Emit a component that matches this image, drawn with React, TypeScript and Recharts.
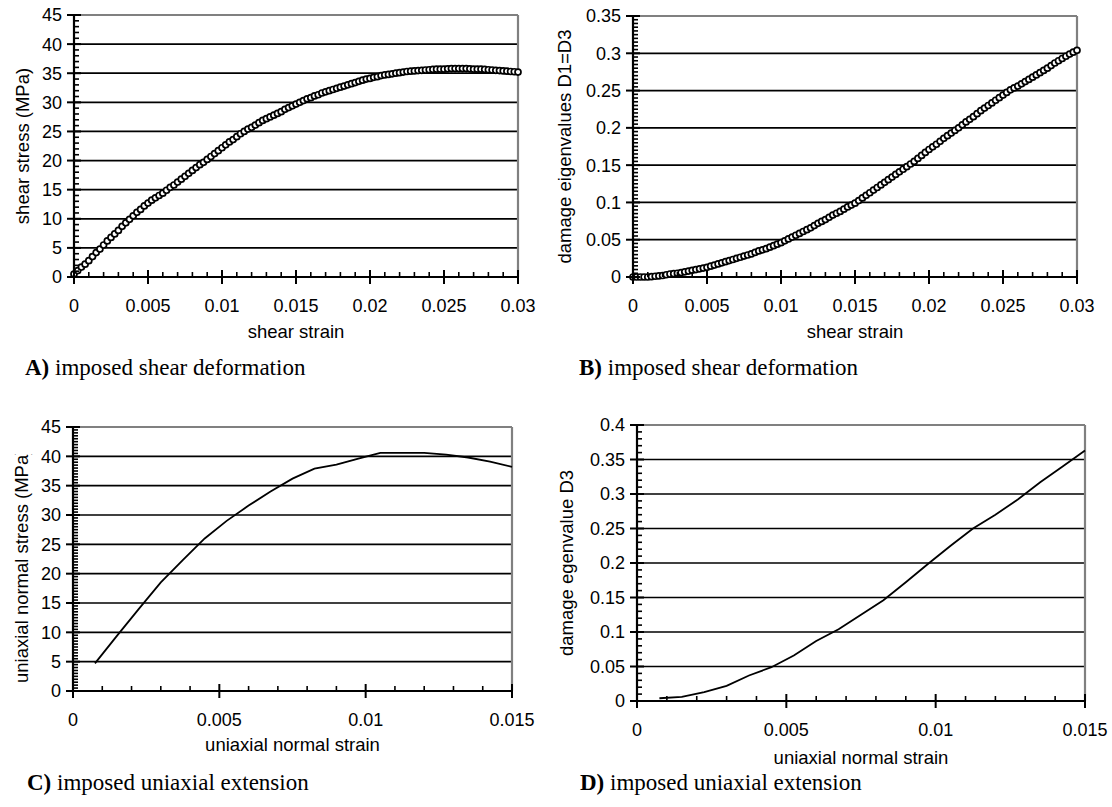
import { LineChart, Line, XAxis, YAxis, ReferenceLine, Label } from 'recharts';

const SANS = '"Liberation Sans", Arial, sans-serif';
const SERIF = '"Liberation Serif", "Times New Roman", serif';

// --- imposed shear deformation (panels A and B) ---
const shearStrain = [
  0, 0.00025, 0.0005, 0.00075, 0.001, 0.00125, 0.0015, 0.00175, 0.002, 0.00225,
  0.0025, 0.00275, 0.003, 0.00325, 0.0035, 0.00375, 0.004, 0.00425, 0.0045, 0.00475,
  0.005, 0.00525, 0.0055, 0.00575, 0.006, 0.00625, 0.0065, 0.00675, 0.007, 0.00725,
  0.0075, 0.00775, 0.008, 0.00825, 0.0085, 0.00875, 0.009, 0.00925, 0.0095, 0.00975,
  0.01, 0.01025, 0.0105, 0.01075, 0.011, 0.01125, 0.0115, 0.01175, 0.012, 0.01225,
  0.0125, 0.01275, 0.013, 0.01325, 0.0135, 0.01375, 0.014, 0.01425, 0.0145, 0.01475,
  0.015, 0.01525, 0.0155, 0.01575, 0.016, 0.01625, 0.0165, 0.01675, 0.017, 0.01725,
  0.0175, 0.01775, 0.018, 0.01825, 0.0185, 0.01875, 0.019, 0.01925, 0.0195, 0.01975,
  0.02, 0.02025, 0.0205, 0.02075, 0.021, 0.02125, 0.0215, 0.02175, 0.022, 0.02225,
  0.0225, 0.02275, 0.023, 0.02325, 0.0235, 0.02375, 0.024, 0.02425, 0.0245, 0.02475,
  0.025, 0.02525, 0.0255, 0.02575, 0.026, 0.02625, 0.0265, 0.02675, 0.027, 0.02725,
  0.0275, 0.02775, 0.028, 0.02825, 0.0285, 0.02875, 0.029, 0.02925, 0.0295, 0.02975, 0.03,
];
const shearStress = [
  0.5, 1.1, 1.7, 2.2, 2.8, 3.5, 4.2, 4.8, 5.5, 6.2,
  6.8, 7.4, 8.0, 8.7, 9.3, 9.9, 10.5, 11.1, 11.6, 12.2,
  12.7, 13.2, 13.6, 14.0, 14.4, 14.9, 15.4, 15.8, 16.3, 16.8,
  17.3, 17.8, 18.3, 18.8, 19.3, 19.7, 20.2, 20.7, 21.2, 21.7,
  22.2, 22.7, 23.2, 23.6, 24.1, 24.6, 25.0, 25.4, 25.7, 26.1,
  26.5, 26.9, 27.2, 27.5, 27.8, 28.1, 28.4, 28.8, 29.1, 29.4,
  29.7, 30.0, 30.3, 30.6, 30.8, 31.1, 31.3, 31.6, 31.8, 32.0,
  32.2, 32.4, 32.6, 32.8, 33.0, 33.2, 33.4, 33.6, 33.8, 34.0,
  34.1, 34.3, 34.4, 34.6, 34.7, 34.8, 34.9, 35.0, 35.1, 35.2,
  35.3, 35.35, 35.4, 35.45, 35.5, 35.55, 35.6, 35.65, 35.7, 35.7,
  35.7, 35.75, 35.8, 35.8, 35.8, 35.8, 35.8, 35.75, 35.7, 35.7,
  35.7, 35.65, 35.6, 35.55, 35.5, 35.45, 35.4, 35.35, 35.3, 35.25, 35.2,
];
const shearDamage = [
  0, 0, 0, 0, 0, 0.0005, 0.001, 0.0015, 0.002, 0.003,
  0.004, 0.0045, 0.005, 0.006, 0.007, 0.008, 0.009, 0.01, 0.011, 0.012,
  0.013, 0.0145, 0.016, 0.0175, 0.019, 0.0205, 0.022, 0.0235, 0.025, 0.0265,
  0.028, 0.0295, 0.031, 0.033, 0.035, 0.0365, 0.038, 0.04, 0.042, 0.044,
  0.046, 0.0485, 0.051, 0.0535, 0.056, 0.0585, 0.061, 0.0635, 0.066, 0.069,
  0.072, 0.0745, 0.077, 0.08, 0.083, 0.0855, 0.088, 0.091, 0.094, 0.0965,
  0.099, 0.1025, 0.106, 0.1095, 0.113, 0.1165, 0.12, 0.1235, 0.127, 0.1305,
  0.134, 0.1375, 0.141, 0.1445, 0.148, 0.1515, 0.155, 0.159, 0.163, 0.167,
  0.171, 0.1745, 0.178, 0.182, 0.186, 0.1895, 0.193, 0.1965, 0.2, 0.204,
  0.208, 0.2115, 0.215, 0.219, 0.223, 0.2265, 0.23, 0.2335, 0.237, 0.2405,
  0.244, 0.2475, 0.251, 0.2535, 0.256, 0.259, 0.262, 0.265, 0.268, 0.271,
  0.274, 0.277, 0.28, 0.2835, 0.287, 0.29, 0.293, 0.296, 0.299, 0.3015, 0.304,
];

// --- imposed uniaxial extension (panels C and D) ---
const uniStrain = [
  0.00075, 0.0015, 0.00225, 0.003, 0.00375, 0.0045, 0.00525, 0.006, 0.00675, 0.0075,
  0.00825, 0.009, 0.00975, 0.0105, 0.01125, 0.012, 0.01275, 0.0135, 0.01425, 0.015,
];
const uniStress = [
  4.7, 9.4, 14.0, 18.5, 22.3, 26.0, 29.0, 31.6, 34.0, 36.2,
  37.9, 38.6, 39.6, 40.6, 40.6, 40.6, 40.3, 39.8, 39.1, 38.2,
];
const uniDamage = [
  0.004, 0.006, 0.013, 0.022, 0.037, 0.049, 0.066, 0.087, 0.104, 0.125,
  0.146, 0.172, 0.199, 0.225, 0.25, 0.27, 0.292, 0.317, 0.34, 0.363,
];

// major tick labels
const shearStrainTicks = [0, 0.005, 0.01, 0.015, 0.02, 0.025, 0.03];
const uniStrainTicks = [0, 0.005, 0.01, 0.015];
const stressTicks = [0, 5, 10, 15, 20, 25, 30, 35, 40, 45];
const shearDamageTicks = [0, 0.05, 0.1, 0.15, 0.2, 0.25, 0.3, 0.35];
const uniDamageTicks = [0, 0.05, 0.1, 0.15, 0.2, 0.25, 0.3, 0.35, 0.4];

const zip = (xs: number[], ys: number[]) => xs.map((x, i) => ({ x, y: ys[i] }));

// majors plus the little minor marks in between
const withMinor = (majors: number[], step: number) => {
  const out: number[] = [];
  const lo = majors[0];
  const hi = majors[majors.length - 1];
  const n = Math.round((hi - lo) / step);
  for (let i = 0; i <= n; i++) out.push(+(lo + i * step).toFixed(6));
  return out;
};

const isMajor = (v: number, majors: number[]) => majors.some((m) => Math.abs(m - v) < 1e-9);
const fmt = (v: number) => String(+v.toFixed(4));

const XTick = (props: any) => {
  const { x, y, payload, majors } = props;
  const v = payload.value;
  if (!isMajor(v, majors)) {
    return <line x1={x} x2={x} y1={y} y2={y - 5} stroke="#000" strokeWidth={1.6} />;
  }
  return (
    <g>
      <line x1={x} x2={x} y1={y - 7} y2={y + 7} stroke="#000" strokeWidth={2} />
      <text x={x} y={y + 35} textAnchor="middle" fontSize={18} fontFamily={SANS} fill="#000">
        {fmt(v)}
      </text>
    </g>
  );
};

const YTick = (props: any) => {
  const { x, y, payload, majors } = props;
  const v = payload.value;
  if (!isMajor(v, majors)) {
    return <line x1={x} x2={x + 5} y1={y} y2={y} stroke="#000" strokeWidth={1.6} />;
  }
  return (
    <g>
      <line x1={x - 7} x2={x + 7} y1={y} y2={y} stroke="#000" strokeWidth={2} />
      <text x={x - 12} y={y} dy="0.36em" textAnchor="end" fontSize={18} fontFamily={SANS} fill="#000">
        {fmt(v)}
      </text>
    </g>
  );
};

type PanelProps = {
  id: string;
  data: { x: number; y: number }[];
  xTicks: number[];
  xMinor: number;
  yTicks: number[];
  yMinor: number;
  xTitle: string;
  yTitle: string;
  yTitleX: number;
  yTitleStart?: number;
  yClipTop?: number;
  xTitleDy: number;
  width: number;
  height: number;
  margin: { top: number; right: number; left: number; bottom: number };
  yAxisWidth: number;
  markers: boolean;
};

const Panel = (p: PanelProps) => {
  const xMax = p.xTicks[p.xTicks.length - 1];
  const yMax = p.yTicks[p.yTicks.length - 1];
  return (
    <LineChart width={p.width} height={p.height} data={p.data} margin={p.margin}>
      {p.yTicks.slice(1).map((v) => (
        <ReferenceLine
          key={v}
          y={v}
          stroke={v === yMax ? '#808080' : '#000'}
          strokeWidth={v === yMax ? 2.2 : 1.7}
        />
      ))}
      <ReferenceLine x={xMax} stroke="#808080" strokeWidth={2.2} />
      <XAxis
        type="number"
        dataKey="x"
        domain={[0, xMax]}
        ticks={withMinor(p.xTicks, p.xMinor)}
        interval={0}
        tickSize={0}
        tickMargin={0}
        tickLine={false}
        axisLine={{ stroke: '#000', strokeWidth: 2.2 }}
        height={70}
        tick={(t: any) => <XTick {...t} majors={p.xTicks} />}
      >
        <Label
          content={(lp: any) => {
            const vb = lp.viewBox;
            return (
              <text
                x={vb.x + vb.width / 2}
                y={vb.y + p.xTitleDy}
                textAnchor="middle"
                fontSize={18.5}
                fontFamily={SANS}
                fill="#000"
              >
                {p.xTitle}
              </text>
            );
          }}
        />
      </XAxis>
      <YAxis
        type="number"
        domain={[0, yMax]}
        ticks={withMinor(p.yTicks, p.yMinor)}
        interval={0}
        tickSize={0}
        tickMargin={0}
        tickLine={false}
        axisLine={{ stroke: '#000', strokeWidth: 2.2 }}
        width={p.yAxisWidth}
        tick={(t: any) => <YTick {...t} majors={p.yTicks} />}
      >
        <Label
          content={(lp: any) => {
            const vb = lp.viewBox;
            const cx = p.yTitleX;
            const cy = p.yTitleStart !== undefined ? p.yTitleStart : vb.y + vb.height / 2;
            const clipId = 'ytitle-clip-' + p.id;
            const clipped = p.yClipTop !== undefined;
            return (
              <g clipPath={clipped ? `url(#${clipId})` : undefined}>
                {clipped && (
                  <defs>
                    <clipPath id={clipId}>
                      <rect x={0} y={p.yClipTop} width={p.yAxisWidth} height={p.height} />
                    </clipPath>
                  </defs>
                )}
                <text
                  x={cx}
                  y={cy}
                  transform={`rotate(-90 ${cx} ${cy})`}
                  textAnchor={p.yTitleStart !== undefined ? 'start' : 'middle'}
                  dominantBaseline="central"
                  fontSize={18.5}
                  fontFamily={SANS}
                  fill="#000"
                >
                  {p.yTitle}
                </text>
              </g>
            );
          }}
        />
      </YAxis>
      <Line
        type="linear"
        dataKey="y"
        stroke="#000"
        strokeWidth={p.markers ? 2 : 1.8}
        dot={p.markers ? { r: 3, stroke: '#000', strokeWidth: 1.7, fill: '#fff' } : false}
        activeDot={false}
        isAnimationActive={false}
      />
    </LineChart>
  );
};

const Caption = ({ tag, text, left, top }: { tag: string; text: string; left: number; top: number }) => (
  <div
    style={{
      position: 'absolute',
      left,
      top,
      fontFamily: SERIF,
      fontSize: 23,
      lineHeight: 1,
      whiteSpace: 'nowrap',
      color: '#000',
    }}
  >
    <b>{tag}</b> {text}
  </div>
);

export default function App() {
  return (
    <div style={{ position: 'relative', width: 1112, height: 807, background: '#fff', overflow: 'hidden' }}>
      <style>{'body{margin:0}'}</style>
      <div style={{ position: 'absolute', left: 0, top: 0 }}>
        <Panel
          id="a"
          data={zip(shearStrain, shearStress)}
          xTicks={shearStrainTicks}
          xMinor={0.001}
          yTicks={stressTicks}
          yMinor={1}
          xTitle="shear strain"
          yTitle="shear stress (MPa)"
          yTitleX={22}
          xTitleDy={61}
          width={545}
          height={350}
          margin={{ top: 15, right: 27, left: 0, bottom: 3 }}
          yAxisWidth={74}
          markers
        />
      </div>
      <div style={{ position: 'absolute', left: 540, top: 0 }}>
        <Panel
          id="b"
          data={zip(shearStrain, shearDamage)}
          xTicks={shearStrainTicks}
          xMinor={0.001}
          yTicks={shearDamageTicks}
          yMinor={0.005}
          xTitle="shear strain"
          yTitle="damage eigenvalues  D1=D3"
          yTitleX={24}
          xTitleDy={61}
          width={572}
          height={350}
          margin={{ top: 16, right: 35, left: 0, bottom: 3 }}
          yAxisWidth={93}
          markers
        />
      </div>
      <div style={{ position: 'absolute', left: 0, top: 390 }}>
        <Panel
          id="c"
          data={zip(uniStrain, uniStress)}
          xTicks={uniStrainTicks}
          xMinor={0.001}
          yTicks={stressTicks}
          yMinor={0.5}
          xTitle="uniaxial normal strain"
          yTitle="uniaxial normal stress (MPa)"
          yTitleX={21}
          yTitleStart={293}
          yClipTop={64}
          xTitleDy={60}
          width={545}
          height={417}
          margin={{ top: 37, right: 33, left: 0, bottom: 46 }}
          yAxisWidth={73}
          markers={false}
        />
      </div>
      <div style={{ position: 'absolute', left: 540, top: 390 }}>
        <Panel
          id="d"
          data={zip(uniStrain, uniDamage)}
          xTicks={uniStrainTicks}
          xMinor={0.001}
          yTicks={uniDamageTicks}
          yMinor={0.01}
          xTitle="uniaxial normal strain"
          yTitle="damage egenvalue  D3"
          yTitleX={26}
          xTitleDy={63}
          width={572}
          height={417}
          margin={{ top: 35, right: 27, left: 0, bottom: 36 }}
          yAxisWidth={97}
          markers={false}
        />
      </div>
      <Caption tag="A)" text="imposed shear deformation" left={25} top={356} />
      <Caption tag="B)" text="imposed shear deformation" left={579} top={356} />
      <Caption tag="C)" text="imposed uniaxial extension" left={27} top={771} />
      <Caption tag="D)" text="imposed uniaxial extension" left={580} top={771} />
    </div>
  );
}
